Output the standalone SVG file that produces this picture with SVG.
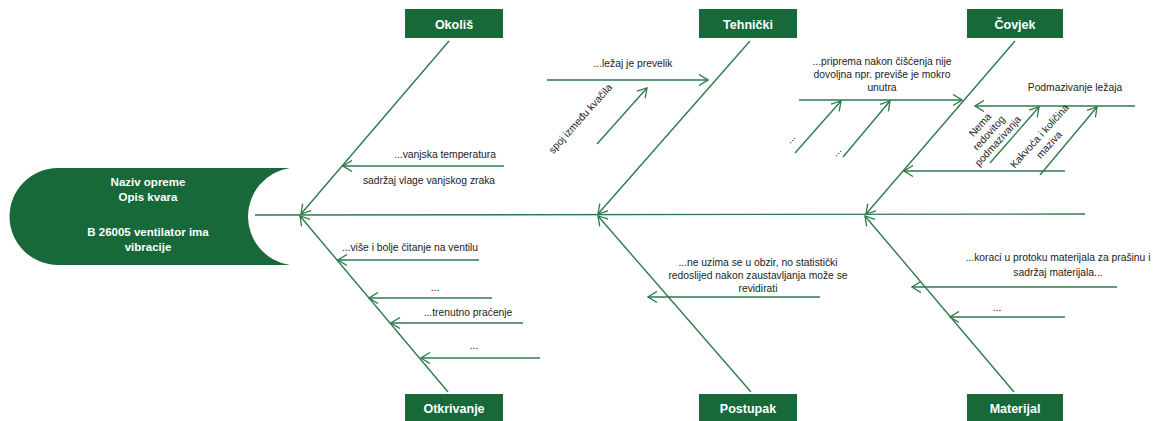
<svg xmlns="http://www.w3.org/2000/svg" width="1157" height="421" viewBox="0 0 1157 421">
<style>
.box{fill:#17693a}
.cat{font-family:"Liberation Sans",Arial,sans-serif;font-weight:bold;font-size:12.5px;fill:#ffffff;text-anchor:middle}
.head{font-family:"Liberation Sans",Arial,sans-serif;font-weight:bold;font-size:11.5px;fill:#ffffff;text-anchor:middle}
.lbl{font-family:"Liberation Sans",Arial,sans-serif;font-size:10.3px;fill:#222222;text-anchor:middle}
.ln{stroke:#2f7a4c;stroke-width:1.4;fill:none;marker-end:url(#arr)}
.sp{stroke:#2f7a4c;stroke-width:1.4;fill:none}
</style>
<defs>
<marker id="arr" viewBox="0 0 12 12" refX="11" refY="6" markerWidth="12" markerHeight="12" markerUnits="userSpaceOnUse" orient="auto">
<path d="M2,0.5 L11,6 L2,11.5" fill="none" stroke="#2f7a4c" stroke-width="1.3"/>
</marker>
</defs>
<rect width="1157" height="421" fill="#ffffff"/>

<g id="head">
<path class="box" d="M58,168 L290,168 A49,49 0 0 0 290,265 L58,265 A48.5,48.5 0 0 1 58,168 Z"/>
<text class="head" x="148" y="186">Naziv opreme</text>
<text class="head" x="148" y="201">Opis kvara</text>
<text class="head" x="148" y="236">B 26005 ventilator ima</text>
<text class="head" x="148" y="251">vibracije</text>
</g>

<g id="cat-okolis"><rect class="box" x="405" y="9" width="98" height="29"/><text class="cat" x="454" y="28.5">Okoliš</text></g>
<g id="cat-tehnicki"><rect class="box" x="699" y="9" width="98" height="29"/><text class="cat" x="748" y="28.5">Tehnički</text></g>
<g id="cat-covjek"><rect class="box" x="967" y="9" width="96" height="29"/><text class="cat" x="1015" y="28.5">Čovjek</text></g>
<g id="cat-otkrivanje"><rect class="box" x="405" y="394" width="98" height="29"/><text class="cat" x="454" y="413">Otkrivanje</text></g>
<g id="cat-postupak"><rect class="box" x="699" y="394" width="98" height="29"/><text class="cat" x="748" y="413">Postupak</text></g>
<g id="cat-materijal"><rect class="box" x="967" y="394" width="96" height="29"/><text class="cat" x="1015" y="413">Materijal</text></g>

<g id="connectors">
<line class="sp" x1="255" y1="215" x2="1085" y2="214"/>
<line class="ln" x1="449" y1="41" x2="301" y2="214"/>
<line class="ln" x1="750" y1="41" x2="598" y2="214"/>
<line class="ln" x1="1015" y1="41" x2="866" y2="214"/>
<line class="ln" x1="448" y1="392" x2="300" y2="216"/>
<line class="ln" x1="751" y1="392" x2="598" y2="216"/>
<line class="ln" x1="1014" y1="392" x2="865" y2="216"/>
<line class="ln" x1="504" y1="166" x2="343" y2="166"/>
<line class="ln" x1="547" y1="80" x2="708" y2="80"/>
<line class="ln" x1="597" y1="144" x2="647" y2="88"/>
<line class="ln" x1="799" y1="100" x2="962" y2="100"/>
<line class="ln" x1="795" y1="153" x2="841" y2="101"/>
<line class="ln" x1="843" y1="157" x2="890" y2="101"/>
<line class="ln" x1="1135" y1="106" x2="975" y2="106"/>
<line class="ln" x1="990" y1="163" x2="1039" y2="107"/>
<line class="ln" x1="1040" y1="175" x2="1097" y2="107"/>
<line class="ln" x1="1065" y1="171" x2="904" y2="171"/>
<line class="ln" x1="479" y1="260" x2="338" y2="260"/>
<line class="ln" x1="492" y1="298" x2="369" y2="298"/>
<line class="ln" x1="523" y1="323" x2="391" y2="323"/>
<line class="ln" x1="540" y1="358" x2="421" y2="358"/>
<line class="ln" x1="820" y1="297" x2="648" y2="297"/>
<line class="ln" x1="1117" y1="287" x2="912" y2="287"/>
<line class="ln" x1="1065" y1="317" x2="950" y2="317"/>
</g>

<g id="labels">
<text class="lbl" x="496" y="158" style="text-anchor:end">...vanjska temperatura</text>
<text class="lbl" x="429" y="184">sadržaj vlage vanjskog zraka</text>
<text class="lbl" x="633" y="67">...ležaj je prevelik</text>
<text class="lbl" transform="translate(583,121) rotate(-48)">spoj između kvačila</text>
<text class="lbl" x="882" y="65">...priprema nakon čišćenja nije</text>
<text class="lbl" x="882" y="78">dovoljna npr. previše je mokro</text>
<text class="lbl" x="882" y="91">unutra</text>
<text class="lbl" transform="translate(793,141) rotate(-48)">...</text>
<text class="lbl" transform="translate(839,154) rotate(-48)">...</text>
<text class="lbl" x="1075" y="91">Podmazivanje ležaja</text>
<g transform="translate(990,134) rotate(-48)">
<text class="lbl" x="0" y="-10">Nema</text>
<text class="lbl" x="0" y="2">redovitog</text>
<text class="lbl" x="0" y="14">podmazivanja</text>
</g>
<g transform="translate(1045,141) rotate(-48)">
<text class="lbl" x="0" y="-4">Kakvoća i količina</text>
<text class="lbl" x="0" y="9">maziva</text>
</g>
<text class="lbl" x="410" y="251">...više i bolje čitanje na ventilu</text>
<text class="lbl" x="435" y="291">...</text>
<text class="lbl" x="468" y="316">...trenutno praćenje</text>
<text class="lbl" x="474" y="349">...</text>
<text class="lbl" x="758" y="266">...ne uzima se u obzir, no statistički</text>
<text class="lbl" x="758" y="279">redoslijed nakon zaustavljanja može se</text>
<text class="lbl" x="758" y="292">revidirati</text>
<text class="lbl" x="1058" y="261">...koraci u protoku materijala za prašinu i</text>
<text class="lbl" x="1058" y="276">sadržaj materijala...</text>
<text class="lbl" x="997" y="311">...</text>
</g>
</svg>
